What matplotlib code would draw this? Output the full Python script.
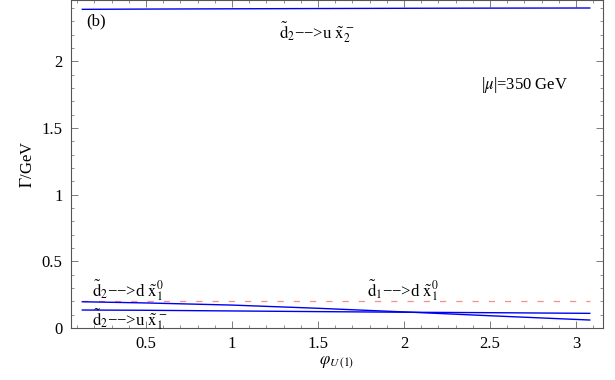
import matplotlib.pyplot as plt
from matplotlib.ticker import MultipleLocator

plt.rcParams['font.family'] = ['Liberation Serif', 'DejaVu Serif']
plt.rcParams['mathtext.fontset'] = 'stix'

phi = [0.13, 0.5, 1.0, 1.5, 2.05, 2.5, 3.08]
d2_u_x2 = [2.39, 2.392, 2.394, 2.396, 2.398, 2.399, 2.40]
d2_d_x10 = [0.197, 0.188, 0.172, 0.148, 0.118, 0.092, 0.06]
d2_u_x1 = [0.135, 0.133, 0.128, 0.123, 0.118, 0.115, 0.11]
d1_d_x10 = [0.2, 0.2, 0.2, 0.2, 0.2, 0.2, 0.2]

fig = plt.figure(figsize=(6.15, 3.8), dpi=100)
ax = fig.add_axes([0.1154, 0.1368, 0.8651, 0.8632])

ax.plot(phi, d1_d_x10, color='#ff8c8c', lw=0.9, dashes=(5, 8))
ax.plot(phi, d2_u_x2, color='#0000f0', lw=1.0)
ax.plot(phi, d2_d_x10, color='#0000f0', lw=1.0)
ax.plot(phi, d2_u_x1, color='#0000f0', lw=1.0)

ax.set_xlim(0.064, 3.157)
ax.set_ylim(0, 2.46)

ax.xaxis.set_major_locator(MultipleLocator(0.5))
ax.xaxis.set_minor_locator(MultipleLocator(0.1))
ax.yaxis.set_major_locator(MultipleLocator(0.5))
ax.yaxis.set_minor_locator(MultipleLocator(0.1))
ax.xaxis.set_major_formatter(plt.FuncFormatter(lambda v, p: '%g' % v))
ax.yaxis.set_major_formatter(plt.FuncFormatter(lambda v, p: '%g' % v))
ax.tick_params(which='both', direction='in', top=True, right=True,
               color='#666666', labelsize=12, pad=6)
ax.tick_params(which='major', length=5, width=0.6)
ax.tick_params(which='minor', length=2.5, width=0.5)
for s in ax.spines.values():
    s.set_color('#555555')
    s.set_linewidth(0.8)

ax.set_ylabel(r'$\Gamma$/GeV', fontsize=12, labelpad=4)
ax.set_xlabel(r'$\varphi_{U\,(1)}$', fontsize=12, labelpad=2)

fs = 12
ax.text(0.15, 2.30, '(b)', fontsize=fs, va='center')
ax.text(1.49, 2.22, r'$\tilde{\rm d}_2$−−>u $\tilde{\rm x}_2^-$', fontsize=fs,
        ha='center', va='center')
ax.text(2.45, 1.82, r'|$\mu$|=350 GeV', fontsize=fs, va='center')
ax.text(0.186, 0.235, r'$\tilde{\rm d}_2$−−>d $\tilde{\rm x}_1^0$', fontsize=fs,
        va='baseline')
ax.text(0.186, 0.07, r'$\tilde{\rm d}_2$−−>u $\tilde{\rm x}_1^-$', fontsize=fs,
        va='center')
ax.text(1.785, 0.235, r'$\tilde{\rm d}_1$−−>d $\tilde{\rm x}_1^0$', fontsize=fs,
        va='baseline')

fig.savefig('out.png', dpi=100)
